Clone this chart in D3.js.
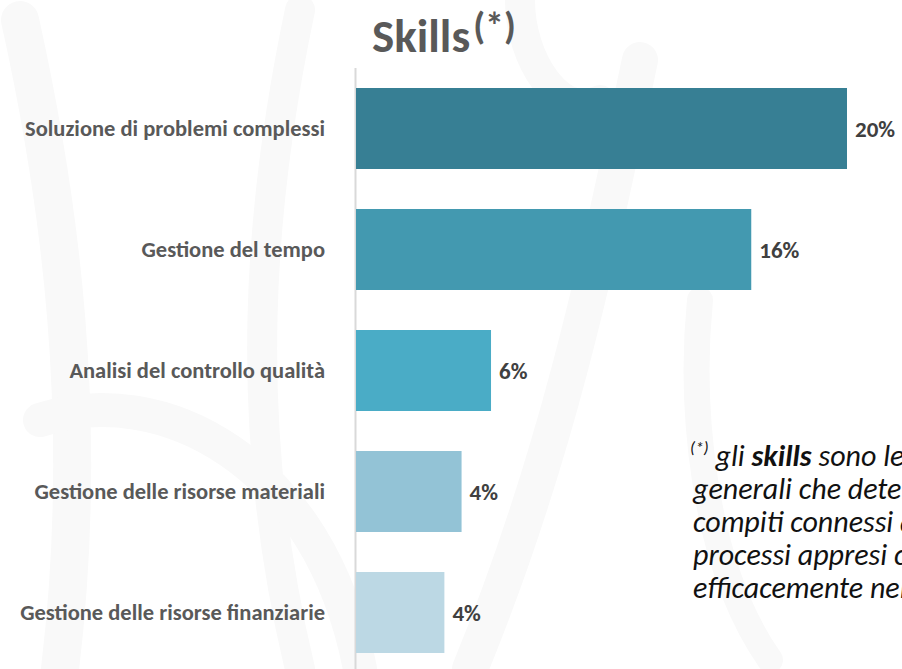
<!DOCTYPE html>
<html><head><meta charset="utf-8">
<script src="https://cdn.jsdelivr.net/npm/d3@7"></script>
<style>
html,body{margin:0;padding:0;background:#fff;overflow:hidden;}
svg{display:block;font-family:Carlito,Lato,"Open Sans",sans-serif;}
</style></head>
<body><svg id="chart" width="902" height="669"></svg>
<script>
const categories = ["Soluzione di problemi complessi","Gestione del tempo","Analisi del controllo qualità","Gestione delle risorse materiali","Gestione delle risorse finanziarie"];
const values = [0.200, 0.161, 0.055, 0.043, 0.036];
const colors = ["#377F94","#4399B0","#4AACC6","#93C3D6","#BCD8E4"];
const noteLines = [
  "generali che determinano lo svolgimento di",
  "compiti connessi alla posizione lavorativa",
  "processi appresi che permettono di operare",
  "efficacemente nel contesto lavorativo"
];

const svg = d3.select("#chart");

// very faint watermark strokes
const wm = svg.append("g").attr("fill","none").attr("stroke","#f9f9f9").attr("stroke-linecap","round");
wm.append("path").attr("d","M20,20 C60,200 90,420 60,669").attr("stroke-width",38);
wm.append("path").attr("d","M300,10 C260,200 240,420 300,669").attr("stroke-width",30);
wm.append("path").attr("d","M40,420 C160,380 320,460 360,669").attr("stroke-width",34);
wm.append("path").attr("d","M640,60 C600,250 560,450 470,669").attr("stroke-width",36);
wm.append("path").attr("d","M520,0 C520,60 560,120 600,100").attr("stroke-width",30);
wm.append("path").attr("d","M770,660 C700,560 690,400 700,300").attr("stroke-width",26);

const x0 = 356;
const x = d3.scaleLinear().domain([0, 0.20]).range([x0, 847]);
const y = d3.scaleBand().domain(categories).range([88, 653]).paddingInner(40/121).paddingOuter(0);

// axis line
svg.append("line").attr("x1",355.5).attr("x2",355.5).attr("y1",68).attr("y2",669)
  .attr("stroke","#d9d9d9").attr("stroke-width",2);

svg.selectAll("rect.bar").data(categories).join("rect").attr("class","bar")
  .attr("x", x0).attr("y", d => y(d))
  .attr("width", (d,i) => x(values[i]) - x0)
  .attr("height", y.bandwidth())
  .attr("fill", (d,i) => colors[i]);

const fmt = d3.format(".0%");
svg.selectAll("text.val").data(categories).join("text").attr("class","val")
  .attr("x", (d,i) => x(values[i]) + 8)
  .attr("y", d => y(d) + y.bandwidth()/2)
  .attr("dy","0.35em")
  .attr("font-size",23).attr("font-weight","bold").attr("fill","#404040")
  .text((d,i) => fmt(values[i]));

svg.selectAll("text.cat").data(categories).join("text").attr("class","cat")
  .attr("x", 325)
  .attr("y", d => y(d) + y.bandwidth()/2)
  .attr("dy","0.35em")
  .attr("text-anchor","end")
  .attr("font-size",22.5).attr("font-weight","bold").attr("fill","#595959")
  .text(d => d);

// title
const t = svg.append("text").attr("x",372).attr("y",52)
  .attr("font-size",47).attr("font-weight","bold").attr("fill","#595959");
t.append("tspan").text("Skills");
t.append("tspan").attr("font-size",38).attr("dy",-13).attr("dx",3).text("(*)");

// note
const note = svg.append("g").attr("font-style","italic").attr("fill","#111").attr("font-size",30);
const l1 = note.append("text").attr("x",690).attr("y",466);
l1.append("tspan").attr("font-size",17).attr("dy",-13).text("(*)");
l1.append("tspan").attr("dy",13).text(" gli ");
l1.append("tspan").attr("font-weight","bold").text("skills");
l1.append("tspan").text(" sono le capacità");
noteLines.forEach((ln,i) => {
  note.append("text").attr("x",693).attr("y",499 + i*33).text(ln);
});
</script></body></html>
